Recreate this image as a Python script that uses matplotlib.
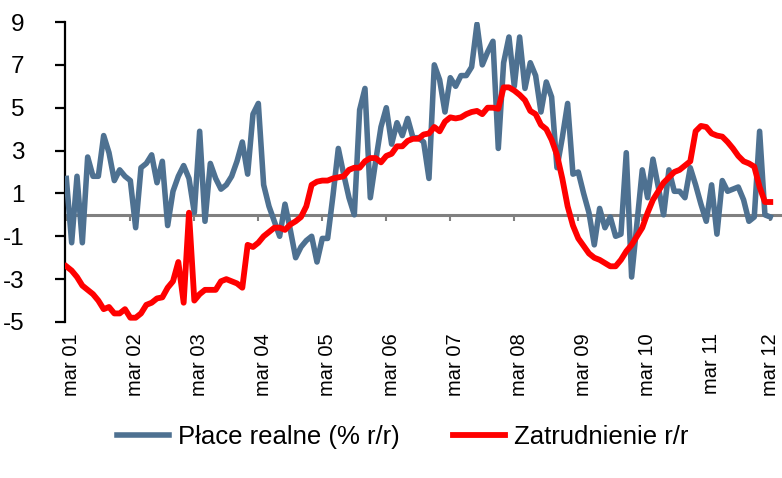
"""
Płace realne vs zatrudnienie (r/r), miesięcznie mar 01 - mar 12
"""
import numpy as np
import matplotlib
matplotlib.use('Agg')
import matplotlib.pyplot as plt
from matplotlib import font_manager
from matplotlib.transforms import ScaledTranslation

# Płace realne (% r/r), monthly from mar 01
place = [1.7, -1.3, 1.8, -1.3, 2.7, 1.8, 1.8, 3.7, 2.9, 1.6,
         2.1, 1.8, 1.6, -0.6, 2.2, 2.4, 2.8, 1.5, 2.5, -0.5,
         1.1, 1.8, 2.3, 1.7, 0.1, 3.9, -0.3, 2.4, 1.7, 1.2,
         1.4, 1.8, 2.5, 3.4, 1.9, 4.7, 5.2, 1.4, 0.4, -0.3,
         -1.0, 0.5, -0.7, -2.0, -1.5, -1.2, -1.0, -2.2, -1.1, -1.1,
         0.9, 3.1, 1.9, 0.8, 0.0, 4.9, 5.9, 0.8, 2.5, 4.1,
         5.0, 3.3, 4.3, 3.7, 4.5, 3.6, 3.6, 3.4, 1.7, 7.0,
         6.3, 4.8, 6.4, 6.0, 6.5, 6.5, 6.9, 8.9, 7.0, 7.6,
         8.1, 3.1, 7.1, 8.3, 6.0, 8.3, 5.9, 7.1, 6.5, 4.8,
         6.2, 5.5, 2.2, 3.6, 5.2, 1.9, 2.0, 1.0, 0.1, -1.4,
         0.3, -0.6, -0.1, -1.0, -0.9, 2.9, -2.9, -0.4, 2.1, 0.8,
         2.6, 1.3, 0.0, 2.1, 1.1, 1.1, 0.8, 2.2, 1.4, 0.5,
         -0.3, 1.4, -0.9, 1.6, 1.1, 1.2, 1.3, 0.7, -0.3, -0.1,
         3.9, 0.0, -0.1]

# Zatrudnienie r/r
zatr = [-2.4, -2.6, -2.9, -3.3, -3.5, -3.7, -4.0, -4.4, -4.3, -4.6,
        -4.6, -4.4, -4.8, -4.8, -4.6, -4.2, -4.1, -3.9, -3.85, -3.4,
        -3.1, -2.2, -4.1, 0.1, -4.0, -3.7, -3.5, -3.5, -3.5, -3.1,
        -3.0, -3.1, -3.2, -3.4, -1.4, -1.5, -1.3, -1.0, -0.8, -0.6,
        -0.6, -0.7, -0.45, -0.3, -0.1, 0.4, 1.4, 1.55, 1.6, 1.6,
        1.7, 1.75, 1.8, 2.1, 2.2, 2.2, 2.5, 2.65, 2.65, 2.45,
        2.75, 2.85, 3.2, 3.2, 3.45, 3.55, 3.55, 3.75, 3.8, 4.1,
        3.9, 4.35, 4.55, 4.5, 4.55, 4.7, 4.8, 4.85, 4.7, 5.0,
        5.0, 4.95, 5.95, 5.95, 5.8, 5.6, 5.35, 4.85, 4.7, 4.2,
        4.0, 3.5, 2.8, 1.7, 0.4, -0.5, -1.1, -1.45, -1.8, -2.0,
        -2.1, -2.25, -2.4, -2.4, -2.1, -1.7, -1.4, -1.0, -0.6, 0.1,
        0.7, 1.1, 1.5, 1.75, 2.0, 2.1, 2.3, 2.5, 3.9, 4.15,
        4.1, 3.8, 3.7, 3.65, 3.4, 3.1, 2.75, 2.5, 2.4, 2.25,
        1.3, 0.6, 0.6]

tick_labels = ['mar 01', 'mar 02', 'mar 03', 'mar 04', 'mar 05', 'mar 06',
               'mar 07', 'mar 08', 'mar 09', 'mar 10', 'mar 11', 'mar 12']
y_ticks = [-5, -3, -1, 1, 3, 5, 7, 9]

BLUE = '#4E7191'
RED = '#FF0000'

# narrow font like the original if it is there
names = {f.name for f in font_manager.fontManager.ttflist}
FONT = 'Liberation Sans Narrow' if 'Liberation Sans Narrow' in names else 'Liberation Sans'
plt.rcParams['font.family'] = [FONT, 'DejaVu Sans']

fig = plt.figure(figsize=(7.82, 4.78), dpi=100)
ax = fig.add_axes([65 / 782, 156 / 478, 717 / 782, 300 / 478])

months = np.arange(len(place))
ax.plot(months, place, color=BLUE, lw=4.0, label='Płace realne (% r/r)',
        solid_joinstyle='round', zorder=3)
ax.plot(months, zatr, color=RED, lw=4.2, label='Zatrudnienie r/r',
        solid_joinstyle='round', zorder=4)

ax.set_xlim(-0.25, 134.2)
ax.set_ylim(-5, 9)

# x axis sits on zero, labels pushed down below the plot
for side in ['top', 'right']:
    ax.spines[side].set_visible(False)
ax.spines['bottom'].set_position(('data', 0))
ax.spines['bottom'].set_color('#808080')
ax.spines['bottom'].set_linewidth(2.2)
ax.spines['bottom'].set_zorder(2)
ax.spines['left'].set_linewidth(1.6)

ax.set_xticks(np.arange(0, len(place), 12))
ax.set_xticklabels(tick_labels, rotation=90, va='top', ha='center')
ax.tick_params(axis='x', direction='out', length=4, width=1.5, color='#808080',
               pad=81, labelsize=14.5)
offset = ScaledTranslation(3.5 / 72, 0, fig.dpi_scale_trans)
for lbl in ax.get_xticklabels()[:-1]:
    lbl.set_transform(lbl.get_transform() + offset)

ax.set_yticks(y_ticks)
ax.set_yticklabels([str(v) for v in y_ticks])
ax.tick_params(axis='y', direction='out', length=7, width=1.6, pad=22, labelsize=17.5)

fig.legend(loc='center', bbox_to_anchor=(0.515, 1 - 437 / 478), ncol=2,
           frameon=False, fontsize=18.5, handlelength=2.0, handletextpad=0.35,
           columnspacing=2.1)

fig.savefig('out.png', dpi=100)
